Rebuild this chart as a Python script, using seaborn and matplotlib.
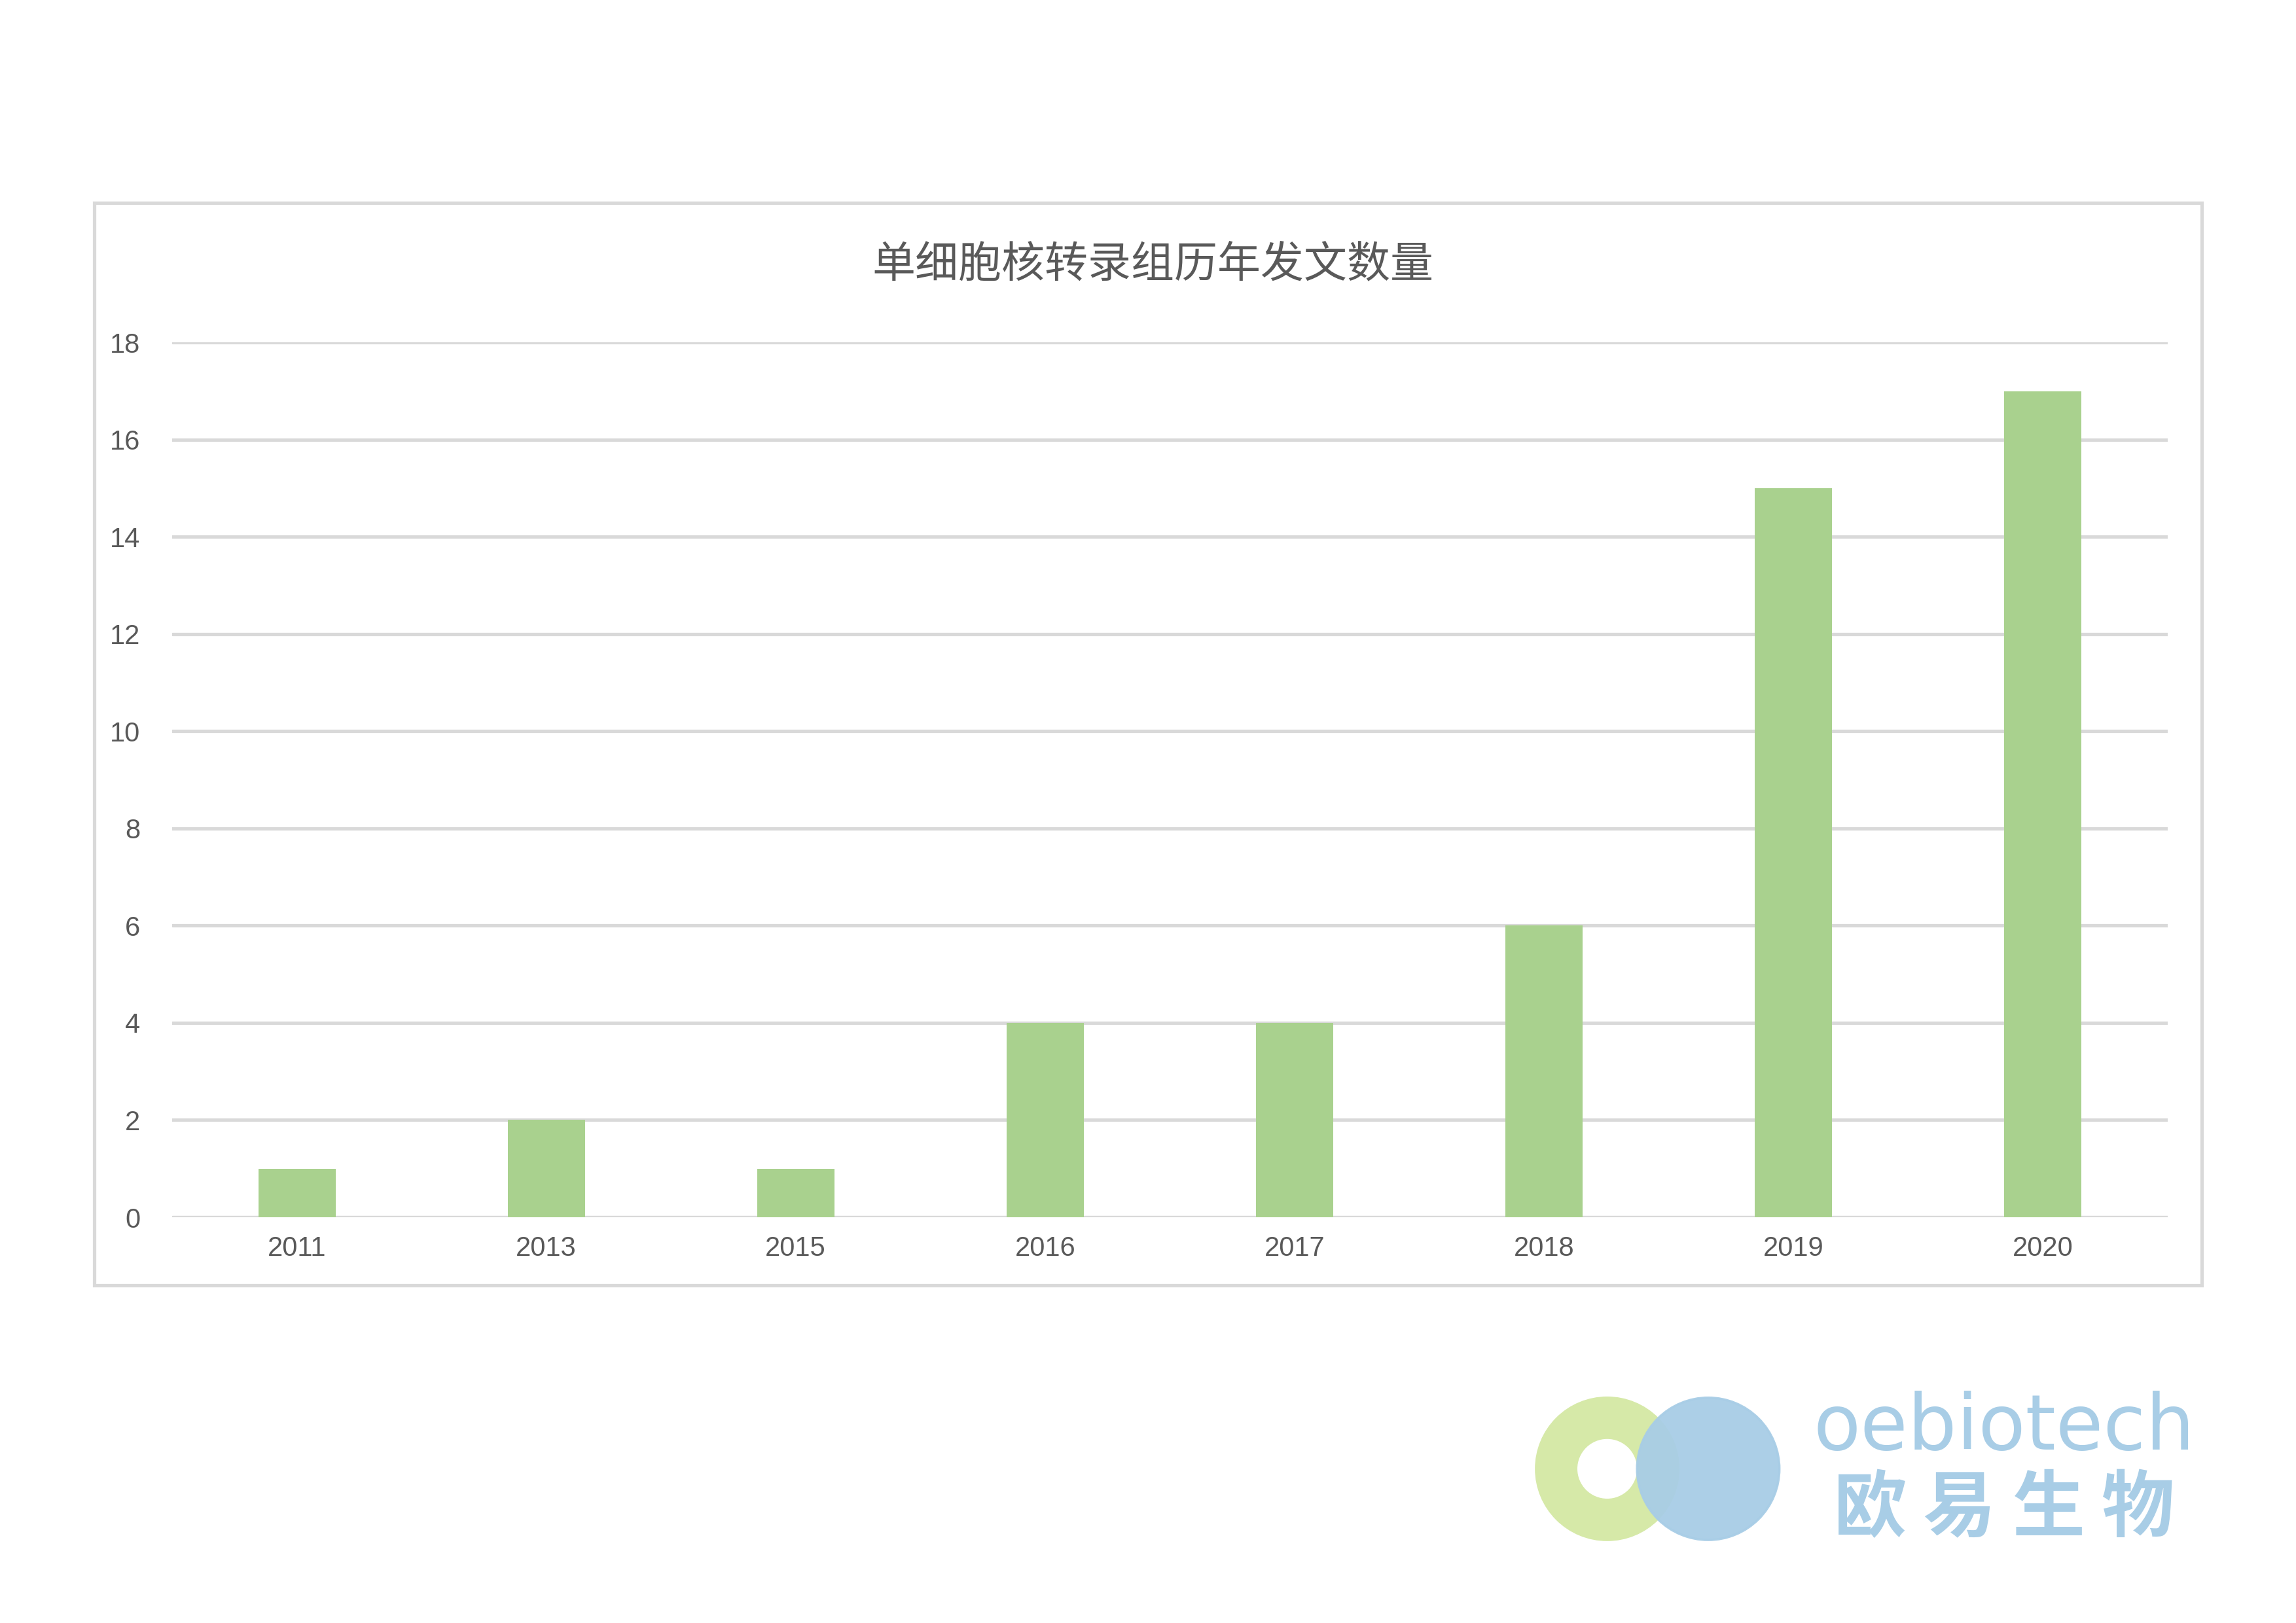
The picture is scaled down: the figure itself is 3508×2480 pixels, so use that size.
import matplotlib
matplotlib.use("Agg")
import matplotlib.pyplot as plt
import matplotlib.patches as mpatches
import seaborn as sns
import pandas as pd

years = ["2011", "2013", "2015", "2016", "2017", "2018", "2019", "2020"]
counts = [1, 2, 1, 4, 4, 6, 15, 17]
title = "单细胞核转录组历年发文数量"

sns.set_theme(style="white")
plt.rcParams['font.family'] = ['Liberation Sans', 'Noto Sans CJK SC', 'DejaVu Sans']

df = pd.DataFrame({"year": years, "count": counts})

fig = plt.figure(figsize=(14.032, 9.92), dpi=250)
asp = 14.032 / 9.92
# chart frame
fig.patches.append(mpatches.Rectangle((0.041, 0.208), 0.918, 0.667, transform=fig.transFigure,
                                      fill=False, edgecolor="#D9D9D9", linewidth=1.5))
ax = fig.add_axes([0.075, 0.250, 0.869, 0.539])
sns.barplot(data=df, x="year", y="count", color="#A9D18E", width=0.31, saturation=1,
            linewidth=0, ax=ax)
ax.set_ylim(0, 18)
ax.set_yticks(range(0, 19, 2))
ax.yaxis.grid(True, color="#D9D9D9", linewidth=1.5)
ax.set_axisbelow(True)
for s in ax.spines.values():
    s.set_visible(False)
ax.axhline(0, color="#D9D9D9", linewidth=1.5, zorder=0)
ax.set_xlabel("")
ax.set_ylabel("")
ax.tick_params(axis="both", length=0, labelsize=12, labelcolor="#595959", pad=8)
ax.tick_params(axis="y", pad=14)
fig.text(0.502, 0.837, title, ha="center", va="center", fontsize=19, color="#595959",
         family=['Noto Sans CJK SC'])

# logo
r = 0.031
fig.patches.append(mpatches.Ellipse((0.700, 0.095), 2 * r, 2 * r * asp, transform=fig.transFigure,
                                    color="#D6E9A8", zorder=1))
fig.patches.append(mpatches.Ellipse((0.700, 0.095), 0.025, 0.025 * asp, transform=fig.transFigure,
                                    color="white", zorder=2))
fig.patches.append(mpatches.Ellipse((0.744, 0.095), 2 * r, 2 * r * asp, transform=fig.transFigure,
                                    color="#A8CDE6", alpha=0.95, zorder=3))
fig.text(0.873, 0.120, "oebiotech", ha="center", va="center", fontsize=34,
         color="#A8CDE6", family="DejaVu Sans")
fig.text(0.873, 0.070, "欧 易 生 物", ha="center", va="center", fontsize=32,
         color="#A8CDE6", weight="bold", family=['Noto Sans CJK SC'])

fig.savefig("out.png", dpi=250, facecolor="white")
